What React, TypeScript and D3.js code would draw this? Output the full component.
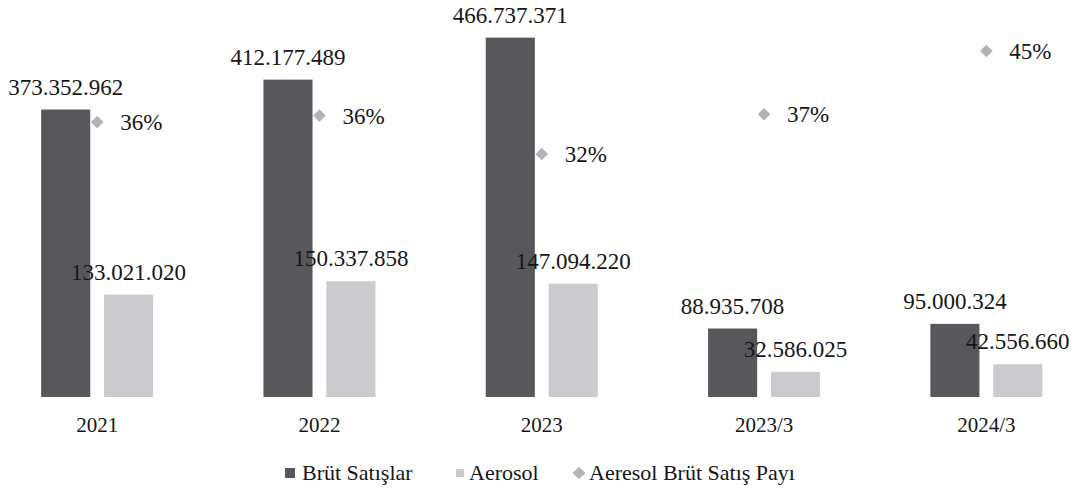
import React from 'react';
import * as d3 from 'd3';

const categories = ['2021', '2022', '2023', '2023/3', '2024/3'];
const brutSatislar = [373352962, 412177489, 466737371, 88935708, 95000324];
const aerosol = [133021020, 150337858, 147094220, 32586025, 42556660];
const aerosolShare = [35.63, 36.47, 31.52, 36.64, 44.8];
const seriesNames = ['Brüt Satışlar', 'Aerosol', 'Aeresol Brüt Satış Payı'];

const W = 1071;
const H = 493;
const DARK = '#58585c';
const LIGHT = '#cacacf';
const MARK = '#b3b3b6';
const TEXT = '#161616';
const FONT = "'Liberation Serif', 'DejaVu Serif', serif";

const fmt = (v: number) => d3.format(',')(v).replace(/,/g, '.');

export default function App() {
  const x = d3.scaleBand<string>().domain(categories).range([-14, 1097.5]).padding(0);
  const inner = d3.scaleBand<string>().domain(['b', 'a']).range([-56, 56]).paddingInner(0.22);
  const y = d3.scaleLinear().domain([0, 500e6]).range([397, 12]);
  const y2 = d3.scaleLinear().domain([0, 50]).range([398.6, 10.6]);
  const diamond = d3.symbol().type(d3.symbolSquare).size(80)() as string;
  const diamondLegend = d3.symbol().type(d3.symbolSquare).size(80)() as string;

  const cx = (c: string) => (x(c) as number) + x.bandwidth() / 2;
  const bw = inner.bandwidth();
  const ts = { fontFamily: FONT, fill: TEXT };

  return (
    <svg
      width={W}
      height={H}
      style={{ position: 'absolute', left: 0, top: 0, background: '#fff', fontFamily: FONT }}
    >
      <rect width={W} height={H} fill="#fff" />
      {categories.map((c, i) => {
        const c0 = cx(c);
        const xb = c0 + (inner('b') as number);
        const xa = c0 + (inner('a') as number);
        const yb = y(brutSatislar[i]);
        const ya = y(aerosol[i]);
        return (
          <g key={c}>
            <rect x={xb} y={yb} width={bw} height={y(0) - yb} fill={DARK} />
            <rect x={xa} y={ya} width={bw} height={y(0) - ya} fill={LIGHT} />
            <text x={xb + bw / 2} y={yb - 15} textAnchor="middle" fontSize={23} style={ts}>
              {fmt(brutSatislar[i])}
            </text>
            <text x={xa + bw / 2} y={ya - 15} textAnchor="middle" fontSize={23} style={ts}>
              {fmt(aerosol[i])}
            </text>
            <text x={c0} y={432} textAnchor="middle" fontSize={21} style={ts}>
              {c}
            </text>
          </g>
        );
      })}
      {categories.map((c, i) => {
        const c0 = cx(c);
        const yy = y2(aerosolShare[i]);
        return (
          <g key={'s' + c}>
            <path d={diamond} transform={`translate(${c0},${yy}) rotate(45)`} fill={MARK} />
            <text x={c0 + 23} y={yy + 8} fontSize={23} style={ts}>
              {`${Math.round(aerosolShare[i])}%`}
            </text>
          </g>
        );
      })}
      <g>
        <rect x={285} y={468} width={10} height={10} fill={DARK} />
        <text x={302} y={480} fontSize={22} style={ts}>{seriesNames[0]}</text>
        <rect x={456} y={469} width={8} height={8} fill={LIGHT} />
        <text x={469} y={480} fontSize={22} style={ts}>{seriesNames[1]}</text>
        <path d={diamondLegend} transform="translate(579,473) rotate(45)" fill={MARK} />
        <text x={589} y={480} fontSize={22} style={ts}>{seriesNames[2]}</text>
      </g>
    </svg>
  );
}
